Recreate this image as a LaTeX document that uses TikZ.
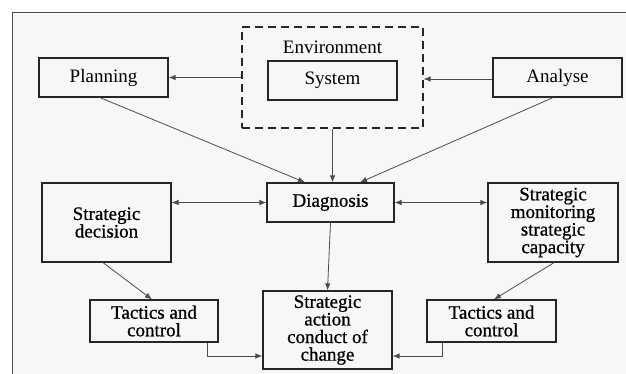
\documentclass[tikz,border=0pt]{standalone}
\usepackage{fontspec}
\setmainfont{Liberation Serif}
\newfontfamily\heavyserif{Liberation Serif}[FakeBold=0.8]
\usetikzlibrary{arrows.meta}
\begin{document}
\begin{tikzpicture}[x=1pt,y=-1pt,
  box/.style={draw=black!85, line width=1.2pt, fill=white!97!black, minimum height=39pt,
    align=center, inner sep=2pt, font=\fontsize{19}{17.6}\selectfont},
  boldbox/.style={box, font=\fontsize{19}{17.6}\heavyserif},
  link/.style={draw=black!70, line width=0.8pt},
  tip/.style={-{Latex[length=7pt,width=5.5pt]}},
  both/.style={{Latex[length=7pt,width=5.5pt]}-{Latex[length=7pt,width=5.5pt]}}]
\useasboundingbox (0,0) rectangle (626,373);
\fill[white] (0,0) rectangle (626,373);
% outer panel
\begin{scope}
  \clip (0,0) rectangle (626,373);
  \draw[draw=black!70, line width=1pt, fill=black!3] (12.7,12.7) rectangle (640,390);
\end{scope}

% top row
\node[box, minimum width=129pt] (plan) at (103.5,77.5) {Planning};
\node[draw=black!85, dashed, dash pattern=on 8pt off 5pt, line width=1.3pt,
      minimum width=181pt, minimum height=101pt] (env) at (332.5,77.5) {};
\node[font=\fontsize{19}{17.6}\selectfont] (envlabel) at (332.5,47) {Environment};
\node[box, minimum width=129pt] (sys) at (332.5,80.5) {System};
\node[box, minimum width=129pt] (ana) at (557.5,77.5) {Analyse};

% middle row
\node[boldbox, minimum width=127pt] (diag) at (330.5,202.5) {Diagnosis};
\node[boldbox, minimum width=129pt, minimum height=79pt] (dec) at (106.5,222.5) {Strategic\\decision};
\node[boldbox, minimum width=130pt, minimum height=79pt] (mon) at (553,222.5) {Strategic\\monitoring\\strategic\\capacity};

% bottom row
\node[boldbox, minimum width=128pt, minimum height=42pt] (tac1) at (154,321) {Tactics and\\control};
\node[boldbox, minimum width=129pt, minimum height=78pt] (act) at (327.5,330) {Strategic\\action\\conduct of\\change};
\node[boldbox, minimum width=129pt, minimum height=42pt] (tac2) at (491.5,321) {Tactics and\\control};

% connectors (y grows downward here, so canvas yshift is negated)
\draw[link, tip] (env.west) -- (plan.east);
\draw[link, tip] ([yshift=-1.5pt]ana.west) -- ([yshift=-1.5pt]env.east);
\draw[link, tip] ([xshift=-3.5pt]plan.south) -- ([xshift=-25.5pt]diag.north);
\draw[link, tip] ([xshift=-4.5pt]ana.south) -- ([xshift=29.5pt]diag.north);
\draw[link, tip] (env.south) -- (env.south |- diag.north);
\draw[link, both] (diag.west -| dec.east) -- (diag.west);
\draw[link, both] (diag.east) -- (diag.east -| mon.west);
\draw[link, tip] ([xshift=-3.5pt]dec.south) -- ([xshift=-2pt]tac1.north);
\draw[link, tip] ([xshift=1pt]mon.south) -- ([xshift=2.5pt]tac2.north);
\draw[link, tip] (diag.south) -- (act.north);
\draw[link, tip] ([xshift=53pt]tac1.south) |- ([yshift=-26pt]act.west);
\draw[link, tip] ([xshift=-49.5pt]tac2.south) |- ([yshift=-26pt]act.east);
\end{tikzpicture}
\end{document}
